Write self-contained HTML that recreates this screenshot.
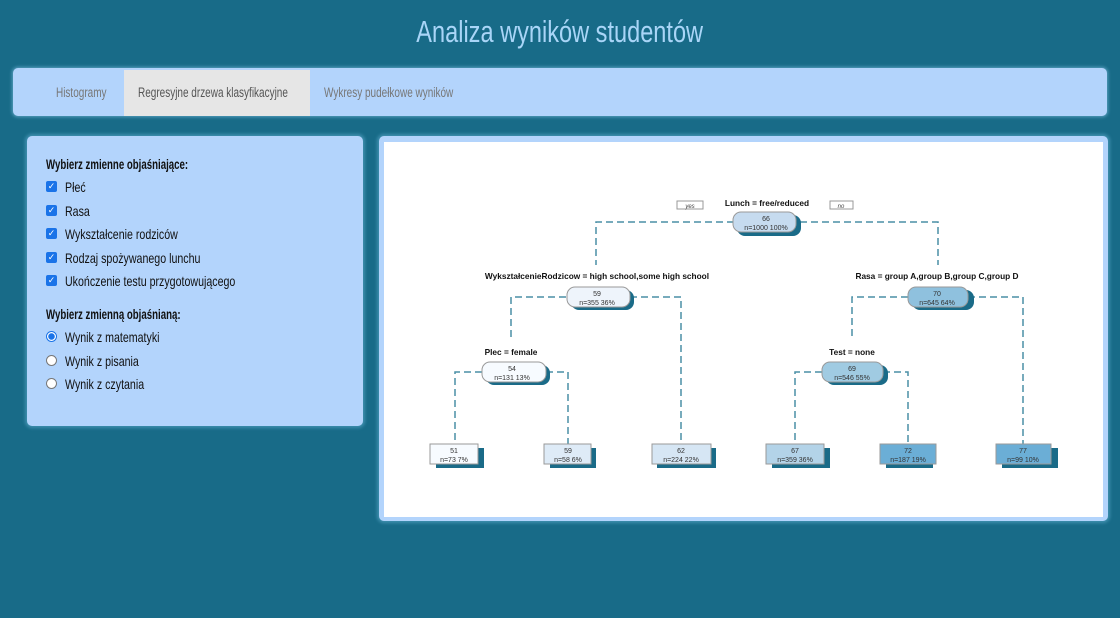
<!DOCTYPE html>
<html><head><meta charset="utf-8"><style>
body{margin:0;width:1120px;height:618px;background:#186b88;font-family:"Liberation Sans",sans-serif;overflow:hidden;position:relative}
.s{display:inline-block;white-space:nowrap;transform-origin:left center}
h1{position:absolute;top:14px;left:0;width:1120px;text-align:center;margin:0;font-weight:normal;color:#a9d5f7;font-size:31px;white-space:nowrap}
h1 span{display:inline-block;transform:scaleX(0.76);transform-origin:center}
.nav{position:absolute;left:13px;top:68px;width:1094px;height:48px;background:#b3d4fc;border-radius:5px;box-shadow:0 0 3px 1px #5aa0c0;}
.tab{position:absolute;top:2px;height:46px;line-height:46px;font-size:13.5px;color:#777;white-space:nowrap}
.tab .s{transform:scaleX(0.74)}
.panel{position:absolute;background:#b3d4fc;border-radius:5px;box-shadow:0 0 3px 2px #3f8fae;}
.lp{left:27px;top:136px;width:336px;height:290px;}
.lp div{position:absolute;left:19px;font-size:14px;color:#111;white-space:nowrap}
.lp div .s{transform:scaleX(0.76)}
.lp div b.s{font-size:14px;transform:scaleX(0.69)}
.cb{position:absolute;left:0;top:2px;width:11px;height:11px;background:#1a73e8;border-radius:2px;color:#fff;font-size:9px;line-height:11px;text-align:center}
.rb{position:absolute;left:0;top:2px;width:9px;height:9px;border:1px solid #777;border-radius:50%;background:#fff}
.rb.on{border:1px solid #1a73e8;background:radial-gradient(circle,#1a73e8 3px,#fff 3.5px)}
.t{position:absolute;left:19px;top:0}
.rp{left:379px;top:136px;width:729px;height:385px;}
</style></head><body>
<h1><span>Analiza wyników studentów</span></h1>
<div class="nav">
<div class="tab" style="left:43px"><span class="s">Histogramy</span></div>
<div class="tab" style="left:111px;width:186px;background:#e6e6e6;color:#555"><span class="s" style="margin-left:14px">Regresyjne drzewa klasyfikacyjne</span></div>
<div class="tab" style="left:311px"><span class="s">Wykresy pudełkowe wyników</span></div>
</div>
<div class="panel lp">
<div style="top:20px"><b class="s">Wybierz zmienne objaśniające:</b></div>
<div style="top:43px;width:300px"><span class="cb">✓</span><span class="s t">Płeć</span></div>
<div style="top:67px;width:300px"><span class="cb">✓</span><span class="s t">Rasa</span></div>
<div style="top:90px;width:300px"><span class="cb">✓</span><span class="s t">Wykształcenie rodziców</span></div>
<div style="top:114px;width:300px"><span class="cb">✓</span><span class="s t">Rodzaj spożywanego lunchu</span></div>
<div style="top:137px;width:300px"><span class="cb">✓</span><span class="s t">Ukończenie testu przygotowującego</span></div>
<div style="top:170px"><b class="s">Wybierz zmienną objaśnianą:</b></div>
<div style="top:193px;width:300px"><span class="rb on"></span><span class="s t">Wynik z matematyki</span></div>
<div style="top:217px;width:300px"><span class="rb"></span><span class="s t">Wynik z pisania</span></div>
<div style="top:240px;width:300px"><span class="rb"></span><span class="s t">Wynik z czytania</span></div>
</div>
<div class="panel rp"></div>
<svg style="position:absolute;left:0;top:0" width="1120" height="618" font-family="Liberation Sans, sans-serif">
<rect x="384" y="142" width="719" height="375" fill="#fff"/>
<g stroke="#4a8fa6" stroke-width="1.5" stroke-dasharray="7,4" fill="none">
<path d="M734 222H596V265M800 222H938V265"/>
<path d="M566 297H511V340M630 297H681V444"/>
<path d="M908 297H852V340M968 297H1023V444"/>
<path d="M482 372H455V444M546 372H568V444"/>
<path d="M822 372H795V444M883 372H908V444"/>
</g>
<rect x="677" y="201" width="26" height="8" fill="#fff" stroke="#999"/><text x="690" y="208" font-size="6" font-style="italic" text-anchor="middle" fill="#444">yes</text>
<rect x="830" y="201" width="23" height="8" fill="#fff" stroke="#999"/><text x="841" y="208" font-size="6" font-style="italic" text-anchor="middle" fill="#444">no</text>
<g font-size="8.3" font-weight="bold" text-anchor="middle" fill="#111">
<text x="767" y="206">Lunch = free/reduced</text>
<text x="597" y="279">WykształcenieRodzicow = high school,some high school</text>
<text x="937" y="279">Rasa = group A,group B,group C,group D</text>
<text x="511" y="355">Plec = female</text>
<text x="852" y="355">Test = none</text>
</g>
<g font-size="7" text-anchor="middle" fill="#333">
<g><rect x="737" y="215" width="64" height="21" rx="8" fill="#1a6b88"/><rect x="733" y="212" width="63" height="20" rx="8" fill="#c6dbef" stroke="#999"/><text x="766" y="221">66</text><text x="766" y="230">n=1000  100%</text></g>
<g><rect x="571" y="290" width="63" height="20" rx="8" fill="#1a6b88"/><rect x="567" y="287" width="63" height="20" rx="8" fill="#eef4fb" stroke="#999"/><text x="597" y="296">59</text><text x="597" y="305">n=355  36%</text></g>
<g><rect x="912" y="290" width="62" height="20" rx="8" fill="#1a6b88"/><rect x="908" y="287" width="60" height="20" rx="8" fill="#8fc1de" stroke="#999"/><text x="937" y="296">70</text><text x="937" y="305">n=645  64%</text></g>
<g><rect x="486" y="365" width="64" height="20" rx="8" fill="#1a6b88"/><rect x="482" y="362" width="64" height="20" rx="8" fill="#f7fbff" stroke="#999"/><text x="512" y="371">54</text><text x="512" y="380">n=131  13%</text></g>
<g><rect x="826" y="365" width="62" height="20" rx="8" fill="#1a6b88"/><rect x="822" y="362" width="61" height="20" rx="8" fill="#a0cbe2" stroke="#999"/><text x="852" y="371">69</text><text x="852" y="380">n=546  55%</text></g>
<g><rect x="436" y="448" width="48" height="20" fill="#1a6b88"/><rect x="430" y="444" width="48" height="20" fill="#f7fbff" stroke="#999"/><text x="454" y="453">51</text><text x="454" y="462">n=73  7%</text></g>
<g><rect x="550" y="448" width="46" height="20" fill="#1a6b88"/><rect x="544" y="444" width="47" height="20" fill="#deebf7" stroke="#999"/><text x="568" y="453">59</text><text x="568" y="462">n=58  6%</text></g>
<g><rect x="657" y="448" width="59" height="20" fill="#1a6b88"/><rect x="652" y="444" width="59" height="20" fill="#d6e6f4" stroke="#999"/><text x="681" y="453">62</text><text x="681" y="462">n=224  22%</text></g>
<g><rect x="772" y="448" width="58" height="20" fill="#1a6b88"/><rect x="766" y="444" width="58" height="20" fill="#b3d3e8" stroke="#999"/><text x="795" y="453">67</text><text x="795" y="462">n=359  36%</text></g>
<g><rect x="886" y="448" width="47" height="20" fill="#1a6b88"/><rect x="880" y="444" width="56" height="20" fill="#6baed6" stroke="#999"/><text x="908" y="453">72</text><text x="908" y="462">n=187  19%</text></g>
<g><rect x="1002" y="448" width="56" height="20" fill="#1a6b88"/><rect x="996" y="444" width="55" height="20" fill="#6baed6" stroke="#999"/><text x="1023" y="453">77</text><text x="1023" y="462">n=99  10%</text></g>
</g>
</svg>
</body></html>
